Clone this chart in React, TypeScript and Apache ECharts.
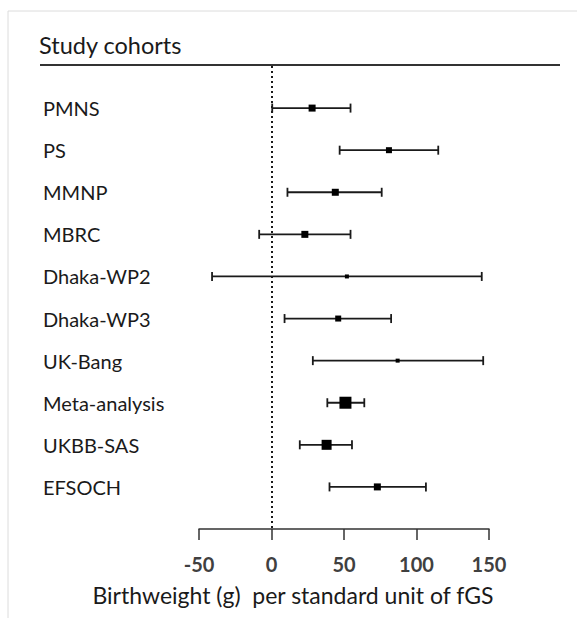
import React, { useEffect, useRef } from "react";
import * as echarts from "echarts";

const cohorts = ["PMNS", "PS", "MMNP", "MBRC", "Dhaka-WP2", "Dhaka-WP3", "UK-Bang", "Meta-analysis", "UKBB-SAS", "EFSOCH"];
const estimates = [28, 81, 44, 23, 52, 46, 87, 51, 38, 73];
const lower = [0.5, 47, 11, -8.5, -41, 9, 28.5, 38.5, 19.5, 40];
const upper = [54.5, 115, 76, 54.5, 145, 82.5, 146, 64, 55.5, 106.5];
const weights = [7, 6, 7, 7, 4, 6, 4, 12, 10, 7];
const xTicks = [-50, 0, 50, 100, 150];

const FONT = "Lato, 'Open Sans', sans-serif";

export default function App() {
  const ref = useRef<HTMLDivElement>(null);
  useEffect(() => {
    if (!ref.current) return;
    const chart = echarts.init(ref.current, null, { renderer: "svg" });
    const data = cohorts.map((_, i) => [i, lower[i], estimates[i], upper[i], weights[i]]);
    chart.setOption({
      animation: false,
      backgroundColor: "#fff",
      grid: { left: 199, width: 290, top: 66, height: 463 },
      xAxis: {
        type: "value",
        min: xTicks[0],
        max: xTicks[xTicks.length - 1],
        interval: 50,
        splitLine: { show: false },
        axisLine: { show: true, onZero: false, lineStyle: { color: "#333", width: 1.5 } },
        axisTick: { show: true, length: 11, lineStyle: { color: "#333", width: 1.5 } },
        axisLabel: { margin: 25, fontSize: 20, fontWeight: "bold", color: "#404040", fontFamily: FONT },
      },
      yAxis: {
        type: "value",
        inverse: true,
        min: -1,
        max: 10,
        interval: 1,
        splitLine: { show: false },
        axisLine: { show: false },
        axisTick: { show: false },
        axisLabel: {
          align: "left",
          margin: 156,
          fontSize: 20,
          color: "#1a1a1a",
          fontFamily: FONT,
          formatter: (v: number) => (cohorts[v] !== undefined ? cohorts[v] : ""),
        },
      },
      graphic: [
        { type: "rect", shape: { x: 8, y: 11, width: 700, height: 800 }, style: { fill: "none", stroke: "#dcdcdc", lineWidth: 1 }, silent: true },
        { type: "text", x: 39, y: 45, style: { text: "Study cohorts", fontSize: 23.5, fontFamily: FONT, fill: "#1a1a1a", verticalAlign: "middle" } },
        { type: "line", shape: { x1: 40, y1: 65, x2: 560, y2: 65 }, style: { stroke: "#333", lineWidth: 2 } },
        { type: "text", x: 293, y: 595, style: { text: "Birthweight (g)  per standard unit of fGS", fontSize: 23, fontFamily: FONT, fill: "#1a1a1a", align: "center", verticalAlign: "middle" } },
      ],
      series: [
        {
          type: "custom",
          data,
          encode: { x: [1, 2, 3], y: 0 },
          renderItem: (params: any, api: any) => {
            const idx = api.value(0);
            const lo = api.coord([api.value(1), idx]);
            const est = api.coord([api.value(2), idx]);
            const hi = api.coord([api.value(3), idx]);
            const s = api.value(4);
            const y = est[1];
            const cap = 4.5;
            const ls = { stroke: "#1a1a1a", lineWidth: 1.8 };
            return {
              type: "group",
              children: [
                { type: "line", shape: { x1: lo[0], y1: y, x2: hi[0], y2: y }, style: ls },
                { type: "line", shape: { x1: lo[0], y1: y - cap, x2: lo[0], y2: y + cap }, style: ls },
                { type: "line", shape: { x1: hi[0], y1: y - cap, x2: hi[0], y2: y + cap }, style: ls },
                { type: "rect", shape: { x: est[0] - s / 2, y: y - s / 2, width: s, height: s }, style: { fill: "#000" } },
              ],
            };
          },
          markLine: {
            silent: true,
            symbol: "none",
            label: { show: false },
            lineStyle: { type: [2, 3], color: "#1a1a1a", width: 2 },
            data: [{ xAxis: 0 }],
          },
        },
      ],
    });
    return () => chart.dispose();
  }, []);
  return <div ref={ref} style={{ position: "fixed", left: 0, top: 0, width: 577, height: 618 }} />;
}
